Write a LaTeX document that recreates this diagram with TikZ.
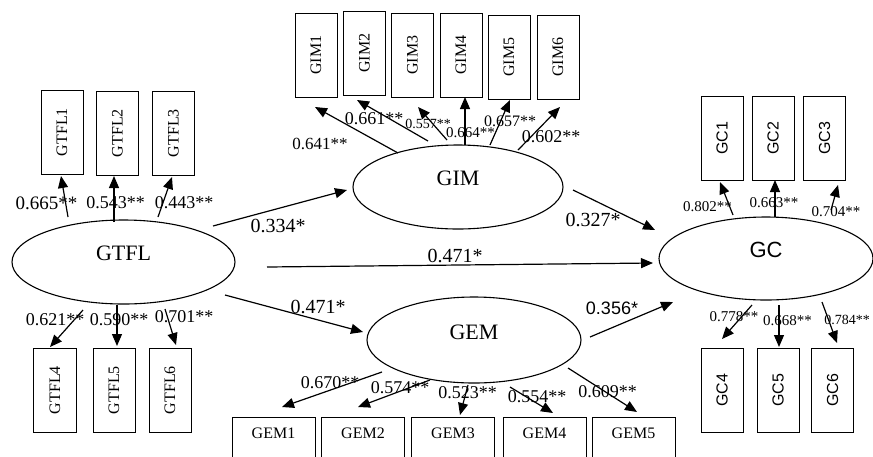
\documentclass[tikz,border=0pt]{standalone}
\usepackage{fontspec}
\setmainfont{Liberation Serif}
\newfontfamily\arialf{Liberation Sans}
\usetikzlibrary{shapes.geometric,arrows.meta}
\begin{document}
\begin{tikzpicture}[x=1pt,y=-1pt,
  lat/.style={ellipse,draw,line width=1.1pt,inner sep=0pt,font=\fontsize{22}{22}\selectfont},
  vbox/.style={draw,line width=1pt,inner sep=0pt,minimum width=42pt,minimum height=84pt,font=\fontsize{16}{16}\selectfont},
  hbox/.style={draw,line width=1pt,inner sep=0pt,minimum width=83pt,minimum height=60pt,text depth=28pt,font=\fontsize{16}{16}\selectfont},
  arr/.style={line width=1.2pt,-{Triangle[length=12pt,width=10pt]}},
  lab/.style={inner sep=0pt,font=\fontsize{18}{18}\selectfont},
  slab/.style={inner sep=0pt,font=\fontsize{20}{20}\selectfont},
  glab/.style={inner sep=0pt,font=\fontsize{15}{15}\selectfont}]
\useasboundingbox (0,0) rectangle (873,456);
\clip (0,0) rectangle (873,456);
\fill[white] (0,0) rectangle (873,456);

% latent variables
\node[lat,minimum width=223pt,minimum height=84pt,text depth=18pt] (gtfl) at (123.5,262) {GTFL};
\node[lat,minimum width=210pt,minimum height=84pt,text depth=18pt] (gim) at (458,187) {GIM};
\node[lat,minimum width=214pt,minimum height=86pt,text depth=16pt] (gem) at (474,340) {GEM};
\node[lat,minimum width=214pt,minimum height=83pt,text depth=17pt,font=\arialf\fontsize{22}{22}\selectfont] (gc) at (766,258.5) {GC};

% GTFL indicators
\node[vbox] (gtfl1) at (62,132) {\rotatebox{90}{GTFL1}};
\node[vbox] (gtfl2) at (117.5,133) {\rotatebox{90}{GTFL2}};
\node[vbox] (gtfl3) at (173.5,133) {\rotatebox{90}{GTFL3}};
\node[vbox,minimum width=43pt] (gtfl4) at (55,390) {\rotatebox{90}{GTFL4}};
\node[vbox] (gtfl5) at (114,390) {\rotatebox{90}{GTFL5}};
\node[vbox] (gtfl6) at (170,390) {\rotatebox{90}{GTFL6}};

% GIM indicators
\node[vbox] (gim1) at (316,55) {\rotatebox{90}{GIM1}};
\node[vbox] (gim2) at (364.5,53) {\rotatebox{90}{GIM2}};
\node[vbox] (gim3) at (412.5,55) {\rotatebox{90}{GIM3}};
\node[vbox] (gim4) at (461,55) {\rotatebox{90}{GIM4}};
\node[vbox] (gim5) at (509,57) {\rotatebox{90}{GIM5}};
\node[vbox] (gim6) at (558,57) {\rotatebox{90}{GIM6}};

% GC indicators
\node[vbox,font=\arialf\fontsize{16}{16}\selectfont] (gc1) at (722,138) {\rotatebox{90}{GC1}};
\node[vbox,font=\arialf\fontsize{16}{16}\selectfont] (gc2) at (773,138) {\rotatebox{90}{GC2}};
\node[vbox,font=\arialf\fontsize{16}{16}\selectfont] (gc3) at (824.5,138) {\rotatebox{90}{GC3}};
\node[vbox,font=\arialf\fontsize{16}{16}\selectfont] (gc4) at (722,390) {\rotatebox{90}{GC4}};
\node[vbox,font=\arialf\fontsize{16}{16}\selectfont] (gc5) at (778,390) {\rotatebox{90}{GC5}};
\node[vbox,font=\arialf\fontsize{16}{16}\selectfont] (gc6) at (832.5,390) {\rotatebox{90}{GC6}};

% GEM indicators
\node[hbox] (gem1) at (273.5,447) {GEM1};
\node[hbox] (gem2) at (363,447) {GEM2};
\node[hbox] (gem3) at (453,447) {GEM3};
\node[hbox] (gem4) at (544.5,447) {GEM4};
\node[hbox] (gem5) at (633.5,447) {GEM5};

% loadings GTFL
\draw[arr] ([shift={(-55.5,-45)}]gtfl.center) -- ([shift={(-1,44)}]gtfl1.center);
\draw[arr] ([shift={(-9.5,-40)}]gtfl.center) -- ([shift={(-3.5,43)}]gtfl2.center);
\draw[arr] ([shift={(34.5,-45)}]gtfl.center) -- ([shift={(-1.5,44)}]gtfl3.center);
\draw[arr] ([shift={(-40.5,48)}]gtfl.center) -- ([shift={(-5,-43)}]gtfl4.center);
\draw[arr] ([shift={(-6.5,43)}]gtfl.center) -- ([shift={(3,-44)}]gtfl5.center);
\draw[arr] ([shift={(41.5,47)}]gtfl.center) -- ([shift={(6,-45)}]gtfl6.center);

% loadings GIM
\draw[arr] ([shift={(-60,-34)}]gim.center) -- ([shift={(-1,52)}]gim1.center);
\draw[arr] ([shift={(-30,-46)}]gim.center) -- ([shift={(-7.5,47)}]gim2.center);
\draw[arr] ([shift={(-11,-47)}]gim.center) -- ([shift={(5.5,52)}]gim3.center);
\draw[arr] ([shift={(7,-42)}]gim.center) -- ([shift={(4,42)}]gim4.center);
\draw[arr] ([shift={(32,-42)}]gim.center) -- ([shift={(1,43)}]gim5.center);
\draw[arr] ([shift={(60,-37)}]gim.center) -- ([shift={(2,50)}]gim6.center);

% loadings GC
\draw[arr] ([shift={(-33,-43.5)}]gc.center) -- ([shift={(-2,44)}]gc1.center);
\draw[arr] ([shift={(9,-41.5)}]gc.center) -- ([shift={(2,42)}]gc2.center);
\draw[arr] ([shift={(65,-48.5)}]gc.center) -- ([shift={(13.5,47)}]gc3.center);
\draw[arr] ([shift={(-14,46.5)}]gc.center) -- ([shift={(0,-51)}]gc4.center);
\draw[arr] ([shift={(13,46.5)}]gc.center) -- ([shift={(1,-43)}]gc5.center);
\draw[arr] ([shift={(56,43.5)}]gc.center) -- ([shift={(4.5,-47)}]gc6.center);

% loadings GEM
\draw[arr] ([shift={(-92,32)}]gem.center) -- ([shift={(8.5,-40)}]gem1.center);
\draw[arr] ([shift={(-44,40)}]gem.center) -- ([shift={(-5,-40)}]gem2.center);
\draw[arr] ([shift={(-6,45)}]gem.center) -- ([shift={(7,-32)}]gem3.center);
\draw[arr] ([shift={(36,47)}]gem.center) -- ([shift={(8.5,-34)}]gem4.center);
\draw[arr] ([shift={(94,28)}]gem.center) -- ([shift={(3.5,-35)}]gem5.center);

% structural paths
\draw[arr] ([shift={(89.5,-36)}]gtfl.center) -- ([shift={(-111,3)}]gim.center);
\draw[arr] ([shift={(115,3)}]gim.center) -- ([shift={(-111,-28.5)}]gc.center);
\draw[arr] ([shift={(143.5,5)}]gtfl.center) -- ([shift={(-113,4.5)}]gc.center);
\draw[arr] ([shift={(101.5,33)}]gtfl.center) -- ([shift={(-111,-8)}]gem.center);
\draw[arr] ([shift={(116,-3)}]gem.center) -- ([shift={(-93,43.5)}]gc.center);

% labels GTFL
\node[lab,font=\fontsize{19}{19}\selectfont] (l1) at (46.5,203) {0.665**};
\node[lab] (l2) at (115.5,203) {0.543**};
\node[lab] (l3) at (184,203) {0.443**};
\node[lab] (l4) at (55,320) {0.621**};
\node[lab] (l5) at (119,320) {0.590**};
\node[lab] (l6) at (184,317) {0.701**};
% labels GIM
\node[lab,font=\fontsize{17}{17}\selectfont] (l7) at (320,144) {0.641**};
\node[lab] (l8) at (374,119) {0.661**};
\node[lab,font=\fontsize{14}{14}\selectfont] (l9) at (428,124) {0.557**};
\node[lab,font=\fontsize{15}{15}\selectfont] (l10) at (470.5,133) {0.664**};
\node[lab,font=\fontsize{16}{16}\selectfont] (l11) at (510,121) {0.657**};
\node[lab] (l12) at (551,137) {0.602**};
% labels GC
\node[glab] (l13) at (707.5,207) {0.802**};
\node[glab] (l14) at (774,203) {0.663**};
\node[glab] (l15) at (836,212) {0.704**};
\node[glab] (l16) at (734,317) {0.778**};
\node[glab] (l17) at (787.5,321) {0.668**};
\node[glab,font=\fontsize{14}{14}\selectfont] (l18) at (847,320) {0.784**};
% labels GEM
\node[lab] (l19) at (330,383) {0.670**};
\node[lab] (l20) at (400,388) {0.574**};
\node[lab] (l21) at (467.5,393) {0.523**};
\node[lab] (l22) at (537,397) {0.554**};
\node[lab] (l23) at (607.5,392) {0.609**};
% structural labels
\node[slab] (s1) at (278,226) {0.334*};
\node[slab] (s2) at (593,220) {0.327*};
\node[slab] (s3) at (455,256) {0.471*};
\node[slab] (s4) at (318,307) {0.471*};
\node[slab,font=\arialf\fontsize{18}{18}\selectfont] (s5) at (612,308) {0.356*};
\end{tikzpicture}
\end{document}
